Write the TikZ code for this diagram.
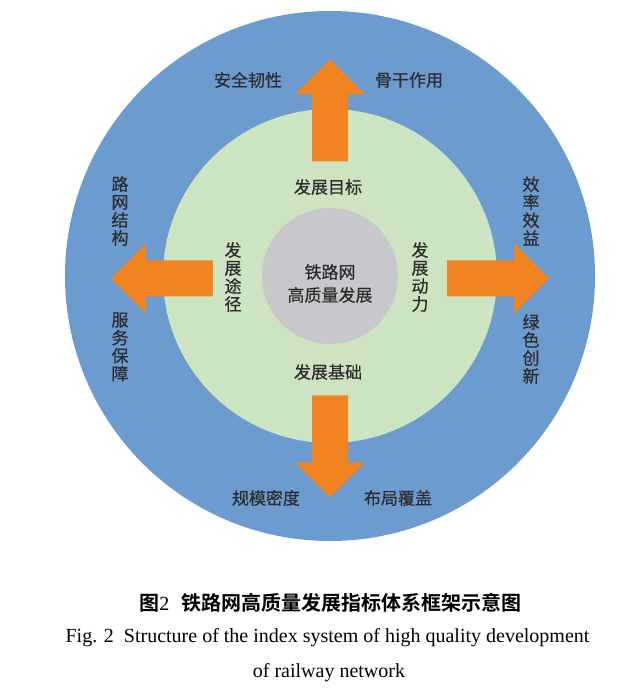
\documentclass[tikz,border=0pt]{standalone}
\usepackage{fontspec}
\setmainfont{Liberation Serif}
\newfontfamily\cjk[BoldFont={Noto Sans CJK SC Bold}]{Noto Sans CJK SC}
\newfontfamily\cjkmid[FakeBold=0.6]{Noto Sans CJK SC}
\usepackage{tikz}
\definecolor{ringblue}{RGB}{107,155,207}
\definecolor{coregreen}{RGB}{205,228,194}
\definecolor{hubgray}{RGB}{200,200,204}
\definecolor{arroworange}{RGB}{241,131,33}
\definecolor{labelgray}{RGB}{45,45,45}

\begin{document}
\begin{tikzpicture}[x=1pt, y=1pt,
    lbl/.style={text=labelgray, inner sep=0pt, font=\cjkmid\fontsize{17}{18}\selectfont},
    vlbl/.style={lbl, align=center},
    captxt/.style={text=black, inner sep=0pt, font=\fontsize{20}{22}\selectfont}]
    \useasboundingbox (-330,-424) rectangle (304,276);

    \fill[ringblue] (0,0) circle (265);
    \fill[coregreen] (0,0) circle (167);
    \fill[hubgray] (0,0) circle (68);

    \foreach \a in {0,90,180,270}
      \fill[arroworange, shift={(0,-2.5)}, rotate=\a]
        (117,-18) -- (184,-18) -- (184,-35) -- (219,0) -- (184,35) -- (184,18) -- (117,18) -- cycle;

    \node[lbl, align=center] (hub) at (0,-7.5) {铁路网\\[5pt]高质量发展};

    \node[lbl] (goal) at (-2,89) {发展目标};
    \node[lbl] (base) at (-2,-96) {发展基础};
    \node[vlbl] (path) at (-97,-1) {发\\展\\途\\径};
    \node[vlbl] (power) at (90,-1) {发\\展\\动\\力};

    \node[lbl] (safe) at (-82,196) {安全韧性};
    \node[lbl] (spine) at (79,196) {骨干作用};
    \node[vlbl] (netstruct) at (-210,65) {路\\网\\结\\构};
    \node[vlbl] (service) at (-210,-71) {服\\务\\保\\障};
    \node[vlbl] (effic) at (201,65) {效\\率\\效\\益};
    \node[vlbl] (green) at (201,-73) {绿\\色\\创\\新};
    \node[lbl] (scale) at (-64,-222) {规模密度};
    \node[lbl] (layout) at (68,-222) {布局覆盖};

    \node[captxt] (capcn) at (0.5,-327) {{\cjk\bfseries 图}2\hspace{12pt}{\cjk\bfseries 铁路网高质量发展指标体系框架示意图}};
    \node[captxt] (capen) at (-2.5,-362) {Fig. 2\hspace{10pt}Structure of the index system of high quality development};
    \node[captxt] (capen2) at (-1,-397) {of railway network};
\end{tikzpicture}
\end{document}
